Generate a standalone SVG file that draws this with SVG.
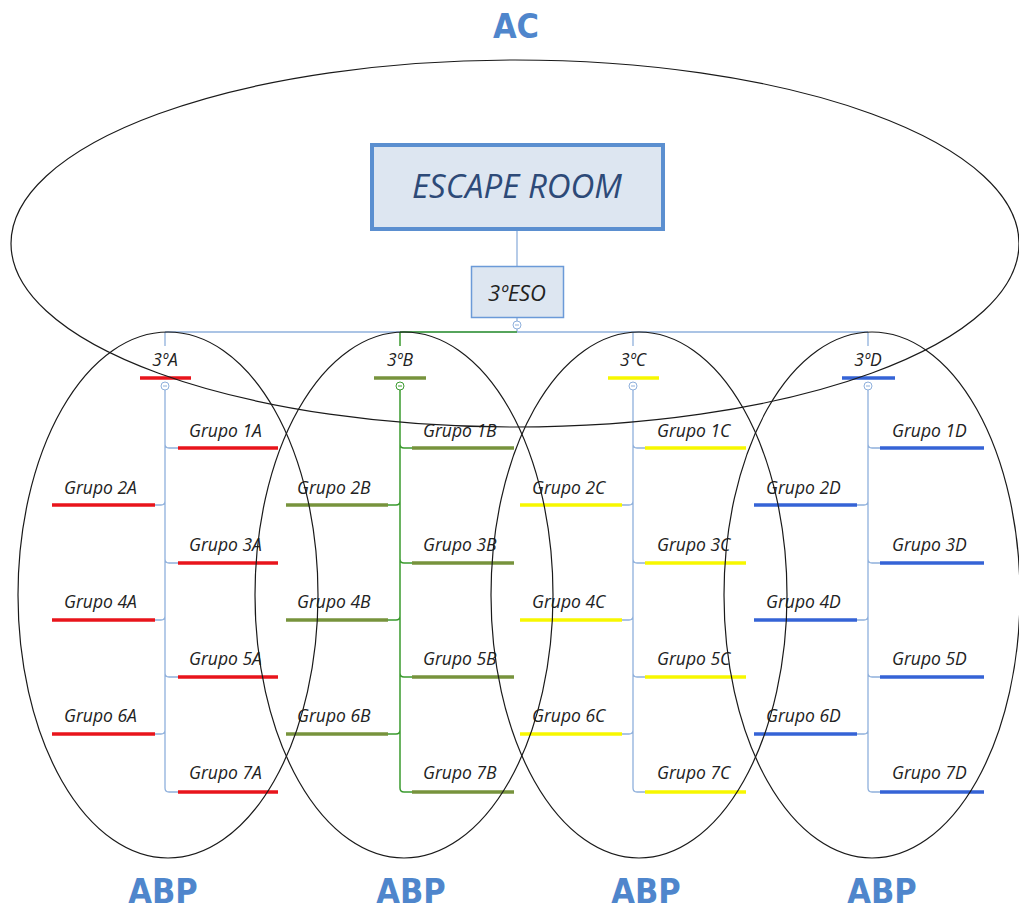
<svg xmlns="http://www.w3.org/2000/svg" width="1019" height="911" viewBox="0 0 1019 911">
<style>
.ell{fill:none;stroke:#1a1a1a;stroke-width:1.2}
.lbl{font-family:"Open Sans","Liberation Sans",sans-serif;font-style:italic;font-size:17.5px;fill:#222}
.big{font-family:"DejaVu Sans Condensed","DejaVu Sans","Liberation Sans",sans-serif;font-weight:bold;font-size:34px;fill:#4f86cc;text-anchor:middle}
.con{fill:none;stroke:#8fb0dc;stroke-width:1.3}
.gcon{fill:none;stroke:#3a9a2e;stroke-width:1.5}
.red{stroke:#e8141b;stroke-width:3.5}
.grn{stroke:#77933c;stroke-width:3.5}
.yel{stroke:#f7f700;stroke-width:3.5}
.blu{stroke:#3563d6;stroke-width:3.5}
.tog{fill:#fff;stroke:#8fb0dc;stroke-width:1}
</style>
<rect width="1019" height="911" fill="#fff"/>
<text class="big" x="516" y="38">AC</text>
<g id="connectors">
<line class="con" x1="517" y1="229" x2="517" y2="266"/>
<line class="con" x1="517" y1="318" x2="517" y2="332"/>
<line class="con" x1="165" y1="332" x2="868" y2="332"/>
<line class="gcon" x1="400" y1="332" x2="517" y2="332"/>
<line class="con" x1="165" y1="332" x2="165" y2="346"/>
<line class="gcon" x1="400" y1="332" x2="400" y2="346"/>
<line class="con" x1="633" y1="332" x2="633" y2="346"/>
<line class="con" x1="868" y1="332" x2="868" y2="346"/>
<path class="con" d="M165 390V788q0 4 4 4h9M165 444q0 4 4 4h9M165 559q0 4 4 4h9M165 673q0 4 4 4h9M165 501q0 4 -4 4h-6M165 616q0 4 -4 4h-6M165 730q0 4 -4 4h-6"/>
<path class="gcon" d="M400 390V788q0 4 4 4h8M400 444q0 4 4 4h8M400 559q0 4 4 4h8M400 673q0 4 4 4h8M400 501q0 4 -4 4h-8M400 616q0 4 -4 4h-8M400 730q0 4 -4 4h-8"/>
<path class="con" d="M633 390V788q0 4 4 4h8M633 444q0 4 4 4h8M633 559q0 4 4 4h8M633 673q0 4 4 4h8M633 501q0 4 -4 4h-7M633 616q0 4 -4 4h-7M633 730q0 4 -4 4h-7"/>
<path class="con" d="M868 390V788q0 4 4 4h8M868 444q0 4 4 4h8M868 559q0 4 4 4h8M868 673q0 4 4 4h8M868 501q0 4 -4 4h-7M868 616q0 4 -4 4h-7M868 730q0 4 -4 4h-7"/>
</g>
<g id="escape-room">
<rect x="372" y="145" width="291" height="84" fill="#dde6f1" stroke="#5b8fd0" stroke-width="4"/>
<text x="517" y="198" font-family="'Open Sans','Liberation Sans',sans-serif" font-style="italic" font-size="33" fill="#2d4a78" text-anchor="middle">ESCAPE ROOM</text>
</g>
<g id="eso">
<rect x="471.5" y="266.5" width="92" height="51" fill="#dde6f1" stroke="#6b9ad8" stroke-width="1.5"/>
<text x="517" y="301" font-family="'Open Sans','Liberation Sans',sans-serif" font-style="italic" font-size="22" fill="#222" text-anchor="middle">3ºESO</text>
<circle class="tog" cx="517" cy="325" r="4"/><line x1="515" y1="325" x2="519" y2="325" stroke="#8fb0dc"/>
</g>
<g id="class-A">
<text class="lbl" x="165" y="366" text-anchor="middle">3ºA</text>
<line class="red" x1="140" y1="378" x2="191" y2="378"/>
<circle class="tog" cx="165" cy="386" r="4"/><line x1="163" y1="386" x2="167" y2="386" stroke="#8fb0dc"/>
<text class="lbl" x="189" y="437">Grupo 1A</text><line class="red" x1="178" y1="448" x2="278" y2="448"/>
<text class="lbl" x="64" y="494">Grupo 2A</text><line class="red" x1="52" y1="505" x2="155" y2="505"/>
<text class="lbl" x="189" y="551">Grupo 3A</text><line class="red" x1="178" y1="563" x2="278" y2="563"/>
<text class="lbl" x="64" y="608">Grupo 4A</text><line class="red" x1="52" y1="620" x2="155" y2="620"/>
<text class="lbl" x="189" y="665">Grupo 5A</text><line class="red" x1="178" y1="677" x2="278" y2="677"/>
<text class="lbl" x="64" y="722">Grupo 6A</text><line class="red" x1="52" y1="734" x2="155" y2="734"/>
<text class="lbl" x="189" y="779">Grupo 7A</text><line class="red" x1="178" y1="792" x2="278" y2="792"/>
</g>
<g id="class-B">
<text class="lbl" x="400" y="366" text-anchor="middle">3ºB</text>
<line class="grn" x1="374" y1="378" x2="426" y2="378"/>
<circle cx="400" cy="386" r="4" fill="#fff" stroke="#3a9a2e"/><line x1="398" y1="386" x2="402" y2="386" stroke="#3a9a2e"/>
<text class="lbl" x="423" y="437">Grupo 1B</text><line class="grn" x1="412" y1="448" x2="514" y2="448"/>
<text class="lbl" x="297" y="494">Grupo 2B</text><line class="grn" x1="286" y1="505" x2="388" y2="505"/>
<text class="lbl" x="423" y="551">Grupo 3B</text><line class="grn" x1="412" y1="563" x2="514" y2="563"/>
<text class="lbl" x="297" y="608">Grupo 4B</text><line class="grn" x1="286" y1="620" x2="388" y2="620"/>
<text class="lbl" x="423" y="665">Grupo 5B</text><line class="grn" x1="412" y1="677" x2="514" y2="677"/>
<text class="lbl" x="297" y="722">Grupo 6B</text><line class="grn" x1="286" y1="734" x2="388" y2="734"/>
<text class="lbl" x="423" y="779">Grupo 7B</text><line class="grn" x1="412" y1="792" x2="514" y2="792"/>
</g>
<g id="class-C">
<text class="lbl" x="633" y="366" text-anchor="middle">3ºC</text>
<line class="yel" x1="608" y1="378" x2="659" y2="378"/>
<circle class="tog" cx="633" cy="386" r="4"/><line x1="631" y1="386" x2="635" y2="386" stroke="#8fb0dc"/>
<text class="lbl" x="657" y="437">Grupo 1C</text><line class="yel" x1="645" y1="448" x2="746" y2="448"/>
<text class="lbl" x="532" y="494">Grupo 2C</text><line class="yel" x1="520" y1="505" x2="622" y2="505"/>
<text class="lbl" x="657" y="551">Grupo 3C</text><line class="yel" x1="645" y1="563" x2="746" y2="563"/>
<text class="lbl" x="532" y="608">Grupo 4C</text><line class="yel" x1="520" y1="620" x2="622" y2="620"/>
<text class="lbl" x="657" y="665">Grupo 5C</text><line class="yel" x1="645" y1="677" x2="746" y2="677"/>
<text class="lbl" x="532" y="722">Grupo 6C</text><line class="yel" x1="520" y1="734" x2="622" y2="734"/>
<text class="lbl" x="657" y="779">Grupo 7C</text><line class="yel" x1="645" y1="792" x2="746" y2="792"/>
</g>
<g id="class-D">
<text class="lbl" x="868" y="366" text-anchor="middle">3ºD</text>
<line class="blu" x1="842" y1="378" x2="895" y2="378"/>
<circle class="tog" cx="868" cy="386" r="4"/><line x1="866" y1="386" x2="870" y2="386" stroke="#8fb0dc"/>
<text class="lbl" x="892" y="437">Grupo 1D</text><line class="blu" x1="880" y1="448" x2="984" y2="448"/>
<text class="lbl" x="766" y="494">Grupo 2D</text><line class="blu" x1="754" y1="505" x2="857" y2="505"/>
<text class="lbl" x="892" y="551">Grupo 3D</text><line class="blu" x1="880" y1="563" x2="984" y2="563"/>
<text class="lbl" x="766" y="608">Grupo 4D</text><line class="blu" x1="754" y1="620" x2="857" y2="620"/>
<text class="lbl" x="892" y="665">Grupo 5D</text><line class="blu" x1="880" y1="677" x2="984" y2="677"/>
<text class="lbl" x="766" y="722">Grupo 6D</text><line class="blu" x1="754" y1="734" x2="857" y2="734"/>
<text class="lbl" x="892" y="779">Grupo 7D</text><line class="blu" x1="880" y1="792" x2="984" y2="792"/>
</g>
<g id="ellipses">
<ellipse class="ell" cx="515" cy="243.5" rx="504" ry="183.5"/>
<ellipse class="ell" cx="168" cy="595" rx="150" ry="263"/>
<ellipse class="ell" cx="404" cy="595" rx="149" ry="263"/>
<ellipse class="ell" cx="639" cy="595" rx="148" ry="263"/>
<ellipse class="ell" cx="872" cy="595" rx="148" ry="263"/>
</g>
<text class="big" x="163" y="903">ABP</text>
<text class="big" x="411" y="903">ABP</text>
<text class="big" x="646" y="903">ABP</text>
<text class="big" x="882" y="903">ABP</text>
</svg>
